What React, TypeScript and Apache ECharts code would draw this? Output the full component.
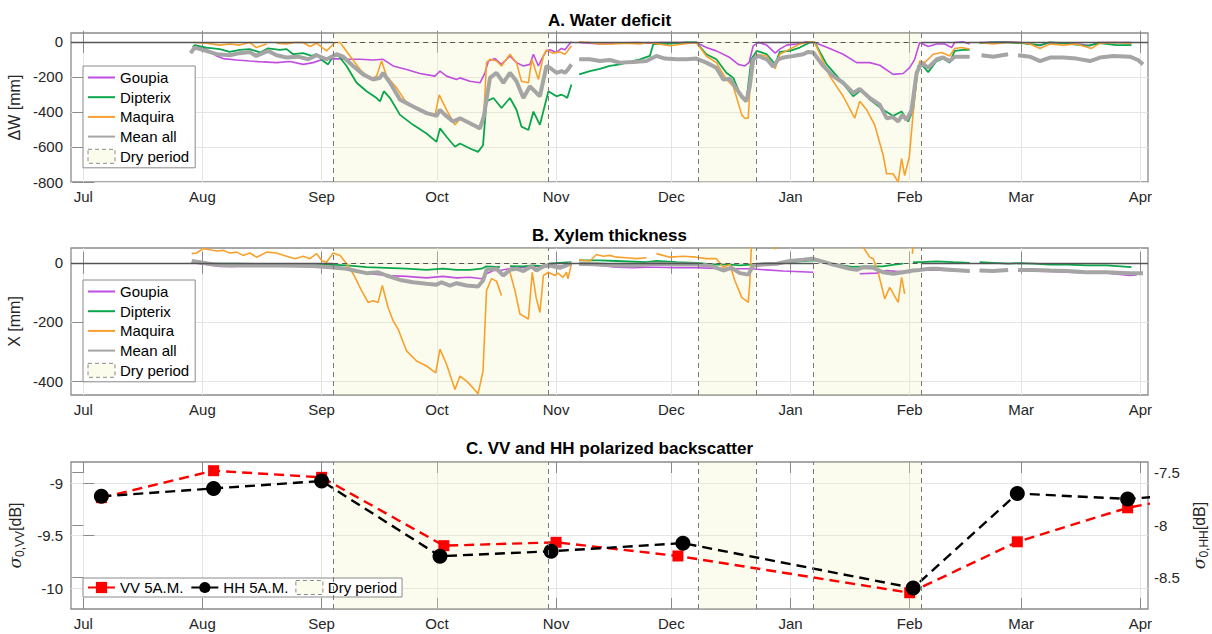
import React, { useEffect, useRef } from 'react';
import * as echarts from 'echarts';

// ---- axis / category data (days since 1 Jul) ----
const MONTH_LABELS = ['Jul', 'Aug', 'Sep', 'Oct', 'Nov', 'Dec', 'Jan', 'Feb', 'Mar', 'Apr'];
const MONTH_DAYS = [0, 31, 62, 92, 123, 153, 184, 215, 244, 275];
const X_MIN = -3.2;
const X_MAX = 277;
const DRY_PERIODS: [number, number][] = [[65, 121], [160, 175], [190, 218]];

const A_TICKS = [-800, -600, -400, -200, 0];
const B_TICKS = [-400, -200, 0];
const C_LEFT_TICKS = [-10, -9.5, -9];
const C_RIGHT_TICKS = [-8.5, -8, -7.5];

type P = [number, number | null];

// ---- A. Water deficit ----
const goupiaW: P[] = [[28.5,-30],[29,-23],[32,-42],[34.7,-81],[36.4,-96],[39.9,-104],[43.3,-110],[46.8,-115],[50.3,-119],[53.8,-113],[57.2,-129],[59.8,-119],[62.4,-100],[65,-96],[68.5,-100],[72,-100],[75.4,-104],[78,-100],[80.6,-138],[84.1,-158],[87.6,-181],[91.5,-196],[92.8,-167],[94.5,-196],[97.1,-215],[98,-206],[100.6,-225],[103.2,-234],[104.5,-177],[105.4,-110],[107.1,-96],[108.8,-129],[111,-81],[112.7,-119],[114.5,-138],[116.2,-129],[117.1,-71],[118.4,-138],[119.7,-81],[120.5,-52],[121.4,-46],[123.1,-61],[124.4,-38],[125.3,-46],[126.1,-23],[127,0],[128,null],[129,-4],[134.4,-13],[138.7,-8],[143.9,-4],[147.4,-8],[150,-4],[156,-4],[159.5,-4],[162.1,-33],[164.7,-52],[168.2,-90],[170.4,-129],[172.1,-138],[173.2,-119],[174.3,-23],[175.6,-4],[177.8,-19],[180,-65],[181.2,-42],[183,-19],[185.6,-13],[188.2,0],[190.3,-4],[194.2,-38],[197.7,-71],[201.2,-119],[204.6,-119],[207.2,-134],[210.7,-186],[213.3,-181],[215,-148],[216.3,-100],[217.6,-4],[219.8,-27],[222,-13],[224.1,-13],[225.9,-33],[226.7,-4],[228.9,0],[230.6,-13],[232,null],[233.2,-4],[240,0],[244,-4],[248.9,-23],[251,-4],[259.3,-13],[261.9,-23],[264,-4],[272.7,-4]];
const dipterixW: P[] = [[28.5,-30],[29,-19],[32,-33],[35.5,-42],[38.1,-58],[40.7,-46],[43.3,-42],[46,-61],[48.1,-38],[51.1,-46],[52.9,-42],[54.6,-71],[57.2,-65],[59.4,-81],[60.7,-71],[62.4,-110],[63.7,-129],[65,-81],[66.3,-77],[68.5,-138],[71.1,-234],[73.7,-282],[76.3,-321],[77.2,-340],[78.2,-282],[79.8,-321],[82.4,-417],[85.8,-474],[89.3,-523],[91.9,-571],[92.8,-494],[94.5,-542],[96.7,-599],[98,-580],[100.6,-609],[102.7,-628],[104,-590],[104.9,-340],[106.7,-321],[108.8,-378],[111,-321],[112.7,-388],[114,-484],[115.8,-503],[117.1,-398],[118.8,-474],[121,-282],[123.1,-311],[124.4,-302],[125.3,-311],[125.9,-321],[127,-244],[128,null],[129,-186],[131.8,-167],[134.4,-154],[137,-138],[139.6,-129],[142.2,-115],[144.8,-100],[147.4,-81],[148.3,-13],[150.9,-13],[154.3,-8],[157,-4],[159.5,-4],[162.1,-71],[164.7,-100],[167.3,-177],[169.1,-206],[171.3,-321],[172.5,-340],[173.8,-100],[175.2,-52],[177.8,-71],[180,-129],[181.2,-58],[183.8,-52],[186.4,-33],[189,-4],[190.3,-4],[193.4,-129],[196.8,-215],[200.3,-311],[202.5,-273],[204.6,-330],[208.1,-388],[210.7,-423],[212.9,-398],[214.6,-455],[215.9,-388],[217.2,-138],[218.1,-129],[219.8,-173],[222,-110],[223.7,-96],[225.4,-119],[226.7,-52],[228.9,-46],[230.6,-46],[232,null],[233.2,-8],[236.7,-4],[240.6,-4],[244.1,-8],[248.9,-19],[251.5,-4],[255,-8],[261,-23],[264.5,-8],[268.8,-19],[272.7,-19]];
const maquiraW: P[] = [[28.8,-2],[29,-4],[32,-8],[35.5,-19],[38.1,-13],[40.7,-19],[43.3,-4],[45,-33],[47.7,-13],[49,null],[50.3,-8],[52.9,-13],[55,-4],[57.2,-4],[59,-27],[60.7,-8],[63.3,-52],[65.5,-4],[66.8,-4],[69.4,-81],[72,-158],[74.6,-211],[76.3,-196],[77.6,-110],[78.9,-196],[81.5,-263],[84,-345],[88,-395],[91.5,-420],[92.6,-303],[94.5,-388],[96.7,-474],[98,-440],[100.6,-470],[103.2,-495],[104.2,-420],[104.9,-119],[105.8,-100],[107.5,-110],[108.8,-138],[111,-71],[112.7,-119],[114,-225],[115.8,-234],[116.7,-100],[118.4,-215],[119.7,-81],[120.5,-46],[122,-65],[124,-58],[125.3,-71],[126.1,-50],[127,-23],[128,null],[129,0],[131.8,-4],[134.4,-13],[137.7,-13],[141,-8],[144.8,-13],[147,-4],[152.6,-23],[156.1,-13],[159.5,-4],[162.1,-81],[164.7,-119],[167.3,-215],[169.1,-254],[171.3,-417],[172.1,-436],[173,-436],[173.8,-119],[175.2,-71],[177.8,-81],[180,-154],[181.2,-71],[183.8,-42],[186.4,-13],[189,0],[190.3,-4],[194.2,-196],[197.7,-311],[200.7,-436],[202,-340],[203.8,-388],[205.9,-474],[208.1,-647],[209,-753],[210.7,-753],[212,-801],[212.9,-667],[213.7,-763],[214.9,-657],[215.9,-407],[216.8,-215],[217.6,-110],[218.9,-119],[221.1,-71],[223.3,-61],[225.4,-81],[226.7,-38],[228.5,-33],[230.6,-42],[232,null],[233.2,-4],[236.7,-13],[240.2,-4],[243.7,-4],[246.3,-13],[248.9,-38],[251.5,-13],[254.9,-19],[258.4,-13],[262.3,-38],[264.5,-8],[268,-4],[272.7,-8]];
const meanW: P[] = [[27.9,-65],[29,-33],[32,-52],[34.7,-71],[38.1,-77],[40.7,-65],[43.3,-58],[45,-81],[48.1,-52],[50.3,-77],[52.9,-90],[55.9,-85],[58.5,-100],[60.7,-77],[63.3,-100],[65.9,-71],[67.6,-85],[70.2,-138],[72.8,-186],[75.4,-215],[77.2,-205],[78,-177],[79.8,-234],[82.4,-330],[85.8,-369],[89.3,-407],[91.9,-423],[92.8,-388],[94.1,-417],[96.2,-455],[98,-436],[100.6,-465],[103.2,-494],[104.2,-426],[105.8,-206],[107.5,-177],[109.3,-234],[111,-177],[112.7,-225],[114.5,-321],[116.2,-254],[117.9,-292],[118.8,-311],[120.5,-138],[121.4,-148],[123.1,-177],[124.4,-167],[125.3,-177],[126.1,-158],[127,-129],[128,null],[129,-100],[131.8,-100],[134.4,-110],[137,-104],[139.6,-119],[143.1,-115],[146.5,-110],[149.1,-81],[151.3,-96],[154.3,-100],[157,-100],[159.5,-96],[162.1,-119],[164.7,-148],[166.5,-215],[168.2,-211],[169.5,-254],[171.3,-311],[172.5,-340],[173.4,-254],[174.3,-100],[175.6,-81],[177.8,-100],[179.5,-142],[180.8,-100],[182.1,-90],[184.7,-81],[187.3,-71],[188.6,-58],[189.9,-61],[192.5,-138],[195.1,-196],[197.7,-234],[200.3,-292],[202,-269],[204.6,-321],[207.2,-359],[209,-436],[210.7,-430],[212,-455],[213.1,-417],[214.2,-446],[215.5,-388],[216.8,-177],[218.1,-119],[219.8,-148],[222,-100],[223.7,-90],[225.4,-110],[226.7,-85],[230.6,-85],[232,null],[233.7,-77],[236.7,-85],[240.6,-71],[242,null],[243.2,-77],[246.3,-85],[248.9,-110],[251.5,-90],[254.9,-90],[258.4,-96],[261.9,-110],[264.5,-90],[268,-81],[272.3,-85],[274.4,-104],[275.7,-129]];

// ---- B. Xylem thickness ----
const goupiaX: P[] = [[28.2,0],[32,-6],[35.5,-12],[39,-12],[42.5,-10],[47.7,-9],[51.1,-6],[56.4,-3],[59.8,-6],[64.2,-9],[68.5,-20],[73.7,-35],[78.9,-43],[84.1,-46],[89.3,-51],[93.6,-46],[97.1,-51],[100.6,-49],[103.6,-54],[104.9,-37],[106.7,-26],[108.4,-26],[112,-17],[117,-15],[121,-6],[124,-12],[125.7,-9],[127,-3],[128,null],[129,-6],[134.4,-9],[138.7,-15],[143,-17],[146.5,-15],[149.1,-15],[154.3,-17],[159.5,-17],[164.7,-19],[170,-20],[173.4,-20],[177.8,-24],[182.1,-28],[189.9,-32],[195,null],[202,-37],[206.4,-35],[209,-26],[212,-30],[216,-28],[220,-24],[225,-26],[230.6,-30],[232,null],[233.2,-28],[240.6,-27],[242,null],[243.2,-27],[251.5,-29],[261,-34],[266,-34],[272.3,-43],[274,-41]];
const dipterixX: P[] = [[28.2,0],[33.8,-2],[40,-3],[48,-4],[56,-5],[64.2,-6],[68.5,-9],[73.7,-15],[78.9,-17],[84.1,-20],[89.3,-24],[93.6,-20],[97.1,-24],[100.6,-24],[103.6,-20],[104.9,-12],[108.4,-15],[109.5,null],[111,-11],[114.5,-12],[117,-9],[119.7,-12],[121.4,-3],[124,0],[127,2],[128,null],[129,8],[134.4,8],[138.7,6],[146.5,2],[149.1,6],[154.3,2],[159.5,0],[164.7,-6],[168.2,-6],[170.8,-9],[173.4,-6],[176.9,-3],[180.4,-1],[183.8,2],[187.3,6],[189.9,8],[195,-4],[200,-14],[203.8,-12],[208,-12],[211,-6],[213.3,-3],[214.5,null],[215.9,2],[217.8,2],[222,5],[226.3,2],[230.6,0],[232,null],[233.2,2],[236.7,0],[240.6,-3],[243.7,-1],[247.1,-3],[251.5,-6],[256,-6],[261,-9],[266.2,-9],[272.7,-15]];
const maquiraX: P[] = [[28.2,31],[29.5,33],[31.2,48],[32.9,44],[34.7,40],[36.4,42],[38.1,33],[39.9,36],[41.6,25],[43.3,33],[45.1,19],[47.7,36],[50.3,33],[52.9,22],[55.1,14],[57.2,22],[59,14],[60.7,31],[62,8],[63.3,2],[65,33],[66.8,25],[68.5,-3],[70.2,-37],[72.4,-94],[74.1,-134],[75.4,-128],[76.7,-134],[77.8,-77],[79.3,-151],[80.6,-196],[81.9,-224],[84.1,-298],[86.7,-332],[89.3,-349],[91.7,-372],[92.8,-292],[94.5,-343],[96.7,-428],[98,-383],[99.7,-400],[101.4,-423],[102.7,-443],[104,-366],[104.9,-94],[106.2,-54],[107.5,-62],[108.8,-111],[109.8,null],[111,-32],[112.3,-94],[113.6,-173],[115.8,-190],[116.8,-32],[117.8,-117],[118.8,-168],[119.7,-43],[121,-32],[122.7,-43],[123.5,-35],[124.8,-49],[125.7,-32],[126.1,-54],[127,-3],[128,null],[129,10],[131.8,6],[133.5,28],[135.3,22],[137,25],[138.7,19],[141.3,17],[143.9,14],[146.5,17],[147.8,null],[149.1,31],[152.6,19],[156.1,22],[159.5,19],[162.1,14],[164.7,14],[166.5,-15],[168.2,-6],[169.5,-60],[171.3,-117],[173,-134],[173.4,-71],[173.8,53],[174.5,120],[179,70],[179.9,46],[180.8,70],[186,120],[198,120],[202.9,53],[204.6,19],[205.5,14],[206.8,-32],[208.5,-122],[209.8,-83],[212,-134],[212.9,-49],[213.7,-105],[214.6,null],[215.7,30],[216,80]];
const meanX: P[] = [[28.2,6],[30.3,2],[33.8,-6],[38.1,-9],[42.5,-9],[46.8,-9],[51.1,-9],[55.5,-10],[59.8,-11],[64.2,-15],[68.5,-20],[71.1,-28],[73.7,-35],[76.7,-32],[78.9,-43],[82.4,-58],[85.8,-66],[89.3,-71],[91.9,-74],[93.2,-66],[95.4,-77],[97.1,-69],[99.7,-77],[102.7,-80],[104,-60],[104.9,-24],[107.5,-20],[109.3,-43],[111,-24],[112.7,-20],[114.5,-28],[116.6,-12],[117.9,-26],[119.7,-12],[121.4,-9],[124,-17],[125.7,-9],[127,-1],[128,null],[129,-3],[134.4,-6],[138.7,-9],[143,-9],[146.5,-6],[149.1,-3],[154.3,-6],[159.5,-6],[163,-9],[166.5,-26],[168.6,-17],[170.8,-35],[173,-40],[174.3,-9],[176.9,-6],[180.4,-3],[183.8,6],[187.3,10],[189.5,14],[190.8,10],[195.1,-6],[199.4,-20],[201.2,-24],[202.9,-15],[205.5,-17],[208.1,-32],[210.7,-37],[213.3,-32],[215.9,-26],[217.6,-24],[220.3,-20],[222,-20],[226.3,-24],[230.6,-28],[232,null],[233.2,-26],[236.7,-28],[240.6,-24],[242,null],[243.2,-24],[247.1,-24],[251.5,-26],[256,-28],[261,-32],[266.2,-32],[272.3,-35],[275.7,-35]];

// ---- C. VV and HH backscatter ----
const vvDays = [4.7, 33.9, 62, 93.8, 123, 154.7, 215, 243, 271.7, 305];
const vvValues = [-9.14, -8.883, -8.946, -9.597, -9.565, -9.695, -10.045, -9.56, -9.236, -9.01];
const hhDays = [4.7, 33.9, 62, 92.8, 121.7, 156, 215.9, 243, 271.7, 305];
const hhValues = [-7.727, -7.652, -7.581, -8.297, -8.25, -8.173, -8.6, -7.7, -7.752, -7.66];

// ---- styles ----
const FONT = "'Liberation Sans', Arial, Helvetica, sans-serif";
const FRAME = '#8a8a8a';
const GRIDC = '#e4e4e4';
const TXT = '#262626';
const C_GOUPIA = '#c04ee0';
const C_DIPTERIX = '#0aa64b';
const C_MAQUIRA = '#f7a12c';
const C_MEAN = '#a5a5a5';
const DRY_FILL = 'rgba(245,245,190,0.26)';
const DRY_LINE = { color: '#7a7a7a', width: 1, type: [5, 4] as any };

const GRID_TOPS = [33, 248, 462];
const GRID_HEIGHTS = [149, 147, 147];

function bottomX(gridIndex: number) {
  return {
    type: 'value', gridIndex, min: X_MIN, max: X_MAX, position: 'bottom',
    axisLine: { show: false },
    axisTick: { show: true, inside: true, length: 11, lineStyle: { color: FRAME, width: 1 }, customValues: MONTH_DAYS },
    axisLabel: {
      show: true, customValues: MONTH_DAYS, margin: 7, fontSize: 15, color: TXT, fontFamily: FONT,
      formatter: (v: number) => { const i = MONTH_DAYS.indexOf(Math.round(v)); return i >= 0 ? MONTH_LABELS[i] : ''; },
    },
    splitLine: { show: true, lineStyle: { color: GRIDC, width: 1 } },
  };
}
function topX(gridIndex: number) {
  return {
    type: 'value', gridIndex, min: X_MIN, max: X_MAX, position: 'top',
    axisLine: { show: false },
    axisTick: { show: true, inside: true, length: 11, lineStyle: { color: FRAME, width: 1 }, customValues: MONTH_DAYS },
    axisLabel: { show: false },
    splitLine: { show: false },
  };
}
function yAxisDef(gridIndex: number, min: number, max: number, ticks: number[], position: string, opts: any = {}) {
  return {
    type: 'value', gridIndex, min, max, position,
    axisLine: { show: false },
    axisTick: { show: true, inside: true, length: 11, lineStyle: { color: FRAME, width: 1 }, customValues: ticks },
    axisLabel: { show: !!opts.labels, customValues: ticks, margin: opts.margin ?? 8, fontSize: 15, color: TXT, fontFamily: FONT },
    splitLine: { show: !!opts.split, lineStyle: { color: GRIDC, width: 1 } },
    ...(opts.name ? {
      name: opts.name, nameLocation: 'middle', nameGap: opts.nameGap, nameRotate: 90,
      nameTextStyle: opts.nameTextStyle ?? { fontSize: 16, color: TXT, fontFamily: FONT },
    } : {}),
  };
}

const toData = (arr: P[]) => arr.map(([x, y]) => [x, y === null ? '-' : y]);

function line(name: string, arr: P[], color: string, width: number, idx: number) {
  return {
    type: 'line', name, xAxisIndex: idx, yAxisIndex: idx, data: toData(arr),
    symbol: 'none', showSymbol: false, connectNulls: false, clip: true, silent: true, z: 3,
    lineStyle: { color, width }, itemStyle: { color },
  };
}

function drySeries(xIdx: number, yIdx: number, zeroLine: boolean) {
  const mlData: any[] = [];
  DRY_PERIODS.forEach(([a, b]) => {
    mlData.push({ xAxis: a, lineStyle: DRY_LINE });
    mlData.push({ xAxis: b, lineStyle: DRY_LINE });
  });
  if (zeroLine) {
    DRY_PERIODS.forEach(([a, b]) => {
      mlData.push([{ coord: [a, 0], lineStyle: { color: '#555', width: 1, type: [5, 4] } }, { coord: [b, 0] }]);
    });
    const bounds = [X_MIN, ...DRY_PERIODS.flat(), X_MAX];
    for (let i = 0; i < bounds.length; i += 2) {
      mlData.push([{ coord: [bounds[i], 0], lineStyle: { color: '#555', width: 1.3, type: 'solid' } }, { coord: [bounds[i + 1], 0] }]);
    }
  }
  return {
    type: 'line', name: 'Dry period', xAxisIndex: xIdx, yAxisIndex: yIdx, data: [], z: 1, silent: true,
    symbol: 'none', itemStyle: { color: DRY_FILL }, lineStyle: { width: 0 },
    markArea: {
      silent: true, itemStyle: { color: DRY_FILL, borderWidth: 0 },
      data: DRY_PERIODS.map(([a, b]) => [{ xAxis: a }, { xAxis: b }]),
    },
    markLine: { silent: true, symbol: ['none', 'none'], label: { show: false }, data: mlData },
  };
}

const DRY_LEGEND = {
  name: 'Dry period', icon: 'rect',
  itemStyle: { color: '#fcfcec', borderColor: '#8a8a8a', borderWidth: 1, borderType: [4, 3], opacity: 1 },
};
const lineLegend = (name: string) => ({ name, itemStyle: { opacity: 0, borderWidth: 0 } });

const legendBase = {
  left: 83, itemWidth: 27, itemHeight: 14, backgroundColor: '#fff', borderColor: '#8a8a8a',
  borderWidth: 1, borderRadius: 0, selectedMode: false,
  textStyle: { fontSize: 15, color: '#000', fontFamily: FONT },
};
const SPECIES_LEGEND = [lineLegend('Goupia'), lineLegend('Dipterix'), lineLegend('Maquira'), lineLegend('Mean all'), DRY_LEGEND];

export default function App() {
  const ref = useRef<HTMLDivElement>(null);
  useEffect(() => {
    if (!ref.current) return;
    const chart = echarts.init(ref.current, undefined, { renderer: 'svg' });
    const sigma = (sub: string) => `{s|σ}{sub|${sub}}{n|[dB]}`;
    const sigmaStyle = {
      color: TXT, fontFamily: FONT,
      rich: {
        s: { fontSize: 17, fontStyle: 'italic', lineHeight: 22, verticalAlign: 'middle', color: TXT, fontFamily: 'DejaVu Serif' },
        sub: { fontSize: 12, lineHeight: 22, verticalAlign: 'bottom', color: TXT, fontFamily: FONT },
        n: { fontSize: 16, lineHeight: 22, verticalAlign: 'middle', color: TXT, fontFamily: FONT },
      },
    };
    const option: any = {
      animation: false,
      backgroundColor: '#fff',
      textStyle: { fontFamily: FONT },
      title: [
        { text: 'A. Water deficit', left: 609.5, top: 12, textAlign: 'center', padding: 0, textStyle: { fontSize: 17, fontWeight: 'bold', color: '#000', fontFamily: FONT } },
        { text: 'B. Xylem thickness', left: 609.5, top: 227, textAlign: 'center', padding: 0, textStyle: { fontSize: 17, fontWeight: 'bold', color: '#000', fontFamily: FONT } },
        { text: 'C. VV and HH polarized backscatter', left: 609.5, top: 440, textAlign: 'center', padding: 0, textStyle: { fontSize: 17, fontWeight: 'bold', color: '#000', fontFamily: FONT } },
      ],
      grid: GRID_TOPS.map((top, i) => ({
        left: 71, right: 64, top, height: GRID_HEIGHTS[i], show: true, borderColor: FRAME, borderWidth: 1.3,
        backgroundColor: '#fff', containLabel: false, outerBoundsMode: 'none',
      })),
      legend: [
        { ...legendBase, orient: 'vertical', top: 66, itemGap: 4.7, padding: [4, 6, 4, 4], data: SPECIES_LEGEND },
        { ...legendBase, orient: 'vertical', top: 280, itemGap: 4.7, padding: [4, 6, 4, 4], data: SPECIES_LEGEND },
        { ...legendBase, orient: 'horizontal', top: 578, itemGap: 7, itemHeight: 14, padding: [2, 5, 2, 4],
          data: [
            { name: 'VV 5A.M.', lineStyle: { type: 'solid' } },
            { name: 'HH 5A.M.', lineStyle: { type: 'solid' } },
            DRY_LEGEND,
          ] },
      ],
      xAxis: [bottomX(0), topX(0), bottomX(1), topX(1), bottomX(2), topX(2)],
      yAxis: [
        yAxisDef(0, -800, 50, A_TICKS, 'left', { labels: true, split: true, name: 'ΔW [mm]', nameGap: 42 }),
        yAxisDef(0, -800, 50, A_TICKS, 'right', {}),
        yAxisDef(1, -447, 50, B_TICKS, 'left', { labels: true, split: true, name: 'X [mm]', nameGap: 42 }),
        yAxisDef(1, -447, 50, B_TICKS, 'right', {}),
        yAxisDef(2, -10.2, -8.8, C_LEFT_TICKS, 'left', { labels: true, split: true, name: sigma('0,VV'), nameGap: 40, nameTextStyle: sigmaStyle }),
        yAxisDef(2, -8.8, -7.4, C_RIGHT_TICKS, 'right', { labels: true, split: false, margin: 6, name: sigma('0,HH'), nameGap: 38, nameTextStyle: sigmaStyle }),
      ],
      series: [
        drySeries(0, 0, true),
        line('Goupia', goupiaW, C_GOUPIA, 1.6, 0),
        line('Dipterix', dipterixW, C_DIPTERIX, 1.8, 0),
        line('Maquira', maquiraW, C_MAQUIRA, 1.6, 0),
        line('Mean all', meanW, C_MEAN, 4, 0),

        drySeries(2, 2, true),
        line('Goupia', goupiaX, C_GOUPIA, 1.6, 2),
        line('Dipterix', dipterixX, C_DIPTERIX, 1.8, 2),
        line('Maquira', maquiraX, C_MAQUIRA, 1.6, 2),
        line('Mean all', meanX, C_MEAN, 4, 2),

        drySeries(4, 4, false),
        {
          type: 'line', name: 'VV 5A.M.', xAxisIndex: 4, yAxisIndex: 4, z: 3, silent: true, clip: true,
          data: vvDays.map((d, i) => [d, vvValues[i]]),
          symbol: 'rect', symbolSize: 11, showSymbol: true,
          lineStyle: { color: '#ff0000', width: 2.4, type: [10, 6] }, itemStyle: { color: '#ff0000' },
        },
        {
          type: 'line', name: 'HH 5A.M.', xAxisIndex: 4, yAxisIndex: 5, z: 4, silent: true, clip: true,
          data: hhDays.map((d, i) => [d, hhValues[i]]),
          symbol: 'circle', symbolSize: 15, showSymbol: true,
          lineStyle: { color: '#000', width: 2.4, type: [10, 6] }, itemStyle: { color: '#000' },
        },
      ],
    };
    chart.setOption(option);
    return () => chart.dispose();
  }, []);
  return <div ref={ref} style={{ position: 'absolute', left: 0, top: 0, width: 1212, height: 634 }} />;
}
